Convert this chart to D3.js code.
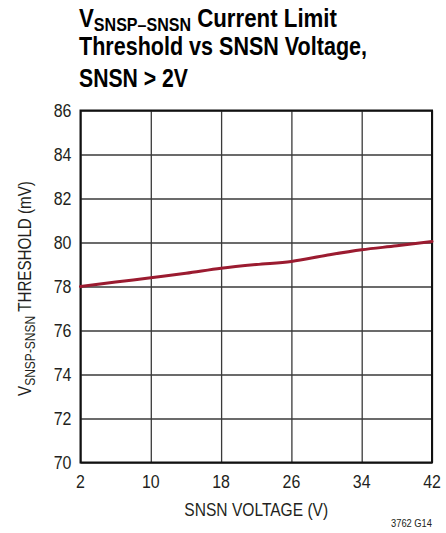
<!DOCTYPE html>
<html lang="en">
  <head>
    <meta charset="UTF-8" />
    <title>VSNSP-SNSN Current Limit Threshold vs SNSN Voltage</title>
    <style>
      body {
        margin: 0;
        background: #fff;
      }
      text {
        font-family: "Liberation Sans", Arial, sans-serif;
        fill: #231f20;
      }
      .title {
        font-weight: bold;
        font-size: 25px;
        fill: #000;
      }
    </style>
  </head>
  <body>
    <svg id="svg" width="446" height="533"></svg>
    <script src="https://cdn.jsdelivr.net/npm/d3@7"></script>
    <script>
      // data
      const snsnVolts = [2, 6, 10, 14, 18, 22, 26, 30, 34, 38, 42];
      const thresholdMv = [78.0, 78.2, 78.4, 78.6, 78.83, 79.0, 79.14, 79.42, 79.67, 79.85, 80.05];
      const xTicks = [2, 10, 18, 26, 34, 42];
      const yTicks = [70, 72, 74, 76, 78, 80, 82, 84, 86];

      const margin = { top: 110.5, right: 14, bottom: 70.5, left: 80.5 };
      const width = 446 - margin.left - margin.right;
      const height = 533 - margin.top - margin.bottom;
      const squeeze = 0.84; // condensed look, no narrow font installed

      const svg = d3.select("#svg");
      const g = svg
        .append("g")
        .attr("transform", `translate(${margin.left},${margin.top})`);

      const x = d3.scaleLinear().domain([2, 42]).range([0, width]);
      const y = d3.scaleLinear().domain([70, 86]).range([height, 0]);

      // grid
      g.append("g")
        .call(d3.axisBottom(x).tickValues(xTicks).tickSize(-height).tickFormat(""))
        .attr("transform", `translate(0,${height})`)
        .call((a) => a.select(".domain").remove())
        .selectAll("line")
        .attr("stroke", "#3a3a3a")
        .attr("stroke-width", 1.3);

      g.append("g")
        .call(d3.axisLeft(y).tickValues(yTicks).tickSize(-width).tickFormat(""))
        .call((a) => a.select(".domain").remove())
        .selectAll("line")
        .attr("stroke", "#3a3a3a")
        .attr("stroke-width", 1.3);

      // frame
      g.append("rect")
        .attr("width", width)
        .attr("height", height)
        .attr("fill", "none")
        .attr("stroke", "#111")
        .attr("stroke-width", 2);

      // tick labels
      g.selectAll(".ylab")
        .data(yTicks)
        .enter()
        .append("text")
        .attr("transform", (d) => `translate(-9,${y(d)}) scale(${squeeze},1)`)
        .attr("dy", "0.36em")
        .attr("text-anchor", "end")
        .style("font-size", "19px")
        .text((d) => d);

      g.selectAll(".xlab")
        .data(xTicks)
        .enter()
        .append("text")
        .attr("transform", (d) => `translate(${x(d)},${height + 25}) scale(${squeeze},1)`)
        .attr("text-anchor", "middle")
        .style("font-size", "19px")
        .text((d) => d);

      // curve
      const pts = snsnVolts.map((v, i) => [v, thresholdMv[i]]);
      g.append("path")
        .datum(pts)
        .attr("fill", "none")
        .attr("stroke", "#9b1b30")
        .attr("stroke-width", 3)
        .attr("stroke-linecap", "round")
        .attr("d", d3.line().x((d) => x(d[0])).y((d) => y(d[1])).curve(d3.curveMonotoneX));

      // axis titles
      svg.append("text")
        .attr("transform", `translate(${margin.left + width / 2},516) scale(0.82,1)`)
        .attr("text-anchor", "middle")
        .style("font-size", "19px")
        .text("SNSN VOLTAGE (V)");

      const yt = svg.append("text")
        .attr("transform", `translate(31,${margin.top + height / 2 + 2}) rotate(-90) scale(0.8,1)`)
        .attr("text-anchor", "middle")
        .style("font-size", "19px");
      yt.append("tspan").text("V");
      yt.append("tspan").attr("dy", 4).style("font-size", "15px").text("SNSP-SNSN");
      yt.append("tspan").attr("dy", -4).text(" THRESHOLD (mV)");

      svg.append("text")
        .attr("transform", "translate(432,527) scale(0.85,1)")
        .attr("text-anchor", "end")
        .style("font-size", "11px")
        .text("3762 G14");

      // title
      const t1 = svg.append("text").attr("class", "title").attr("x", 79).attr("y", 27)
        .attr("textLength", 258).attr("lengthAdjust", "spacingAndGlyphs");
      t1.append("tspan").text("V");
      t1.append("tspan").attr("dy", 4).style("font-size", "18px").text("SNSP\u2013SNSN");
      t1.append("tspan").attr("dy", -4).text(" Current Limit");
      svg.append("text").attr("class", "title").attr("x", 79).attr("y", 55)
        .attr("textLength", 288).attr("lengthAdjust", "spacingAndGlyphs")
        .text("Threshold vs SNSN Voltage,");
      svg.append("text").attr("class", "title").attr("x", 79).attr("y", 87)
        .attr("textLength", 109).attr("lengthAdjust", "spacingAndGlyphs")
        .text("SNSN > 2V");
    </script>
  </body>
</html>
